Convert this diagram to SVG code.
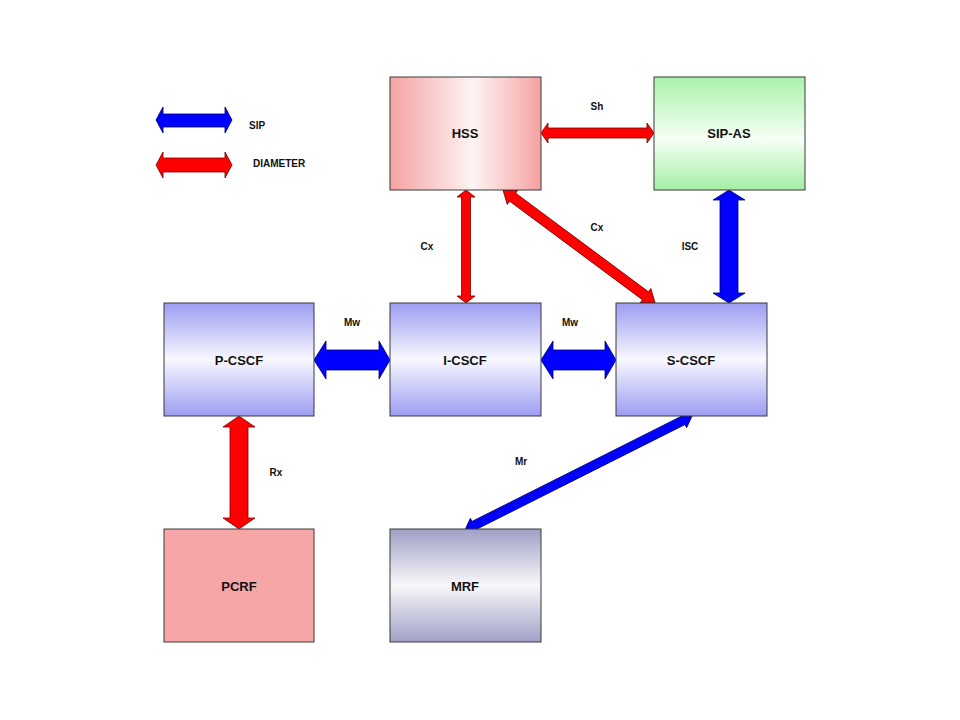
<svg xmlns="http://www.w3.org/2000/svg" width="960" height="720" viewBox="0 0 960 720">
<defs>
<linearGradient id="gHSS" x1="0" y1="0" x2="1" y2="0">
<stop offset="0" stop-color="#f5a2a2"/><stop offset="0.55" stop-color="#fdf4f4"/><stop offset="1" stop-color="#f5a2a2"/>
</linearGradient>
<linearGradient id="gAS" x1="0" y1="0" x2="0" y2="1">
<stop offset="0" stop-color="#aaf2aa"/><stop offset="0.55" stop-color="#f6fff6"/><stop offset="1" stop-color="#a4eea4"/>
</linearGradient>
<linearGradient id="gCSCF" x1="0" y1="0" x2="0" y2="1">
<stop offset="0" stop-color="#9c9cf2"/><stop offset="0.5" stop-color="#f8f8ff"/><stop offset="1" stop-color="#9c9cf2"/>
</linearGradient>
<linearGradient id="gMRF" x1="0" y1="0" x2="0" y2="1">
<stop offset="0" stop-color="#a0a0c6"/><stop offset="0.5" stop-color="#f8f8fa"/><stop offset="1" stop-color="#a0a0c6"/>
</linearGradient>
</defs>
<style>
.box{stroke:#3a3a3a;stroke-width:1}
.lbl{font-family:"Liberation Sans",Arial,sans-serif;font-weight:bold;font-size:13px;fill:#111;text-anchor:middle}
.cl{font-family:"Liberation Sans",Arial,sans-serif;font-weight:bold;font-size:10px;fill:#111;text-anchor:middle}
.lg{font-family:"Liberation Sans",Arial,sans-serif;font-weight:bold;font-size:10px;fill:#111}
.red{fill:#ff0000;stroke:#7a0000;stroke-width:0.8;stroke-linejoin:miter}
.blue{fill:#0000ff;stroke:#000070;stroke-width:0.8;stroke-linejoin:miter}
</style>
<rect width="960" height="720" fill="#ffffff"/>

<g id="legend">
<polygon class="blue" points="156,120 163,107 163,114 225,114 225,107 232,120 225,133 225,127 163,127 163,133"/>
<text class="lg" x="249" y="129">SIP</text>
<polygon class="red" points="156,165 163,152 163,158 225,158 225,152 232,165 225,178 225,172 163,172 163,178"/>
<text class="lg" x="253" y="167">DIAMETER</text>
</g>

<g id="connectors">
<!-- Sh -->
<polygon class="red" points="541,133 548,123 548,128 647,128 647,123 654,133 647,143 647,138 548,138 548,143"/>
<!-- Cx vertical -->
<polygon class="red" points="466,190 475,197 470.5,197 470.5,296 475,296 466,303 457,296 461.5,296 461.5,197 457,197"/>
<!-- Cx diagonal -->
<polygon class="red" transform="translate(503,190) rotate(36.6)" points="0,0 12,-9 12,-5 177.4,-5 177.4,-9 189.4,0 177.4,9 177.4,5 12,5 12,9"/>
<!-- ISC -->
<polygon class="blue" points="729,190 745,200 738,200 738,293 745,293 729,303 713,293 720,293 720,200 713,200"/>
<!-- Mw 1 -->
<polygon class="blue" points="314,360 326,341 326,350 379,350 379,341 390,360 379,379 379,370 326,370 326,379"/>
<!-- Mw 2 -->
<polygon class="blue" points="541,360 553,341 553,350 605,350 605,341 616,360 605,379 605,370 553,370 553,379"/>
<!-- Rx -->
<polygon class="red" points="239,416 255,427 248,427 248,518 255,518 239,529 223,518 230,518 230,427 223,427"/>
<!-- Mr -->
<polygon class="blue" transform="translate(692,416) rotate(153.33)" points="0,0 10,-8 10,-4.5 244,-4.5 244,-8 254,0 244,8 244,4.5 10,4.5 10,8"/>
<text class="cl" x="597" y="110">Sh</text>
<text class="cl" x="427" y="250">Cx</text>
<text class="cl" x="597" y="231">Cx</text>
<text class="cl" x="690" y="250">ISC</text>
<text class="cl" x="352" y="326">Mw</text>
<text class="cl" x="570" y="326">Mw</text>
<text class="cl" x="276" y="476">Rx</text>
<text class="cl" x="521" y="465">Mr</text>
</g>

<g id="HSS">
<rect class="box" x="390" y="77" width="151" height="113" fill="url(#gHSS)"/>
<text class="lbl" x="465" y="138">HSS</text>
</g>
<g id="SIP-AS">
<rect class="box" x="654" y="77" width="151" height="113" fill="url(#gAS)"/>
<text class="lbl" x="729" y="138">SIP-AS</text>
</g>
<g id="P-CSCF">
<rect class="box" x="164" y="303" width="150" height="113" fill="url(#gCSCF)"/>
<text class="lbl" x="239" y="365">P-CSCF</text>
</g>
<g id="I-CSCF">
<rect class="box" x="390" y="303" width="151" height="113" fill="url(#gCSCF)"/>
<text class="lbl" x="465" y="365">I-CSCF</text>
</g>
<g id="S-CSCF">
<rect class="box" x="616" y="303" width="151" height="113" fill="url(#gCSCF)"/>
<text class="lbl" x="691" y="365">S-CSCF</text>
</g>
<g id="PCRF">
<rect class="box" x="164" y="529" width="150" height="113" fill="#f6a6a6"/>
<text class="lbl" x="239" y="591">PCRF</text>
</g>
<g id="MRF">
<rect class="box" x="390" y="529" width="151" height="113" fill="url(#gMRF)"/>
<text class="lbl" x="465" y="591">MRF</text>
</g>
</svg>
